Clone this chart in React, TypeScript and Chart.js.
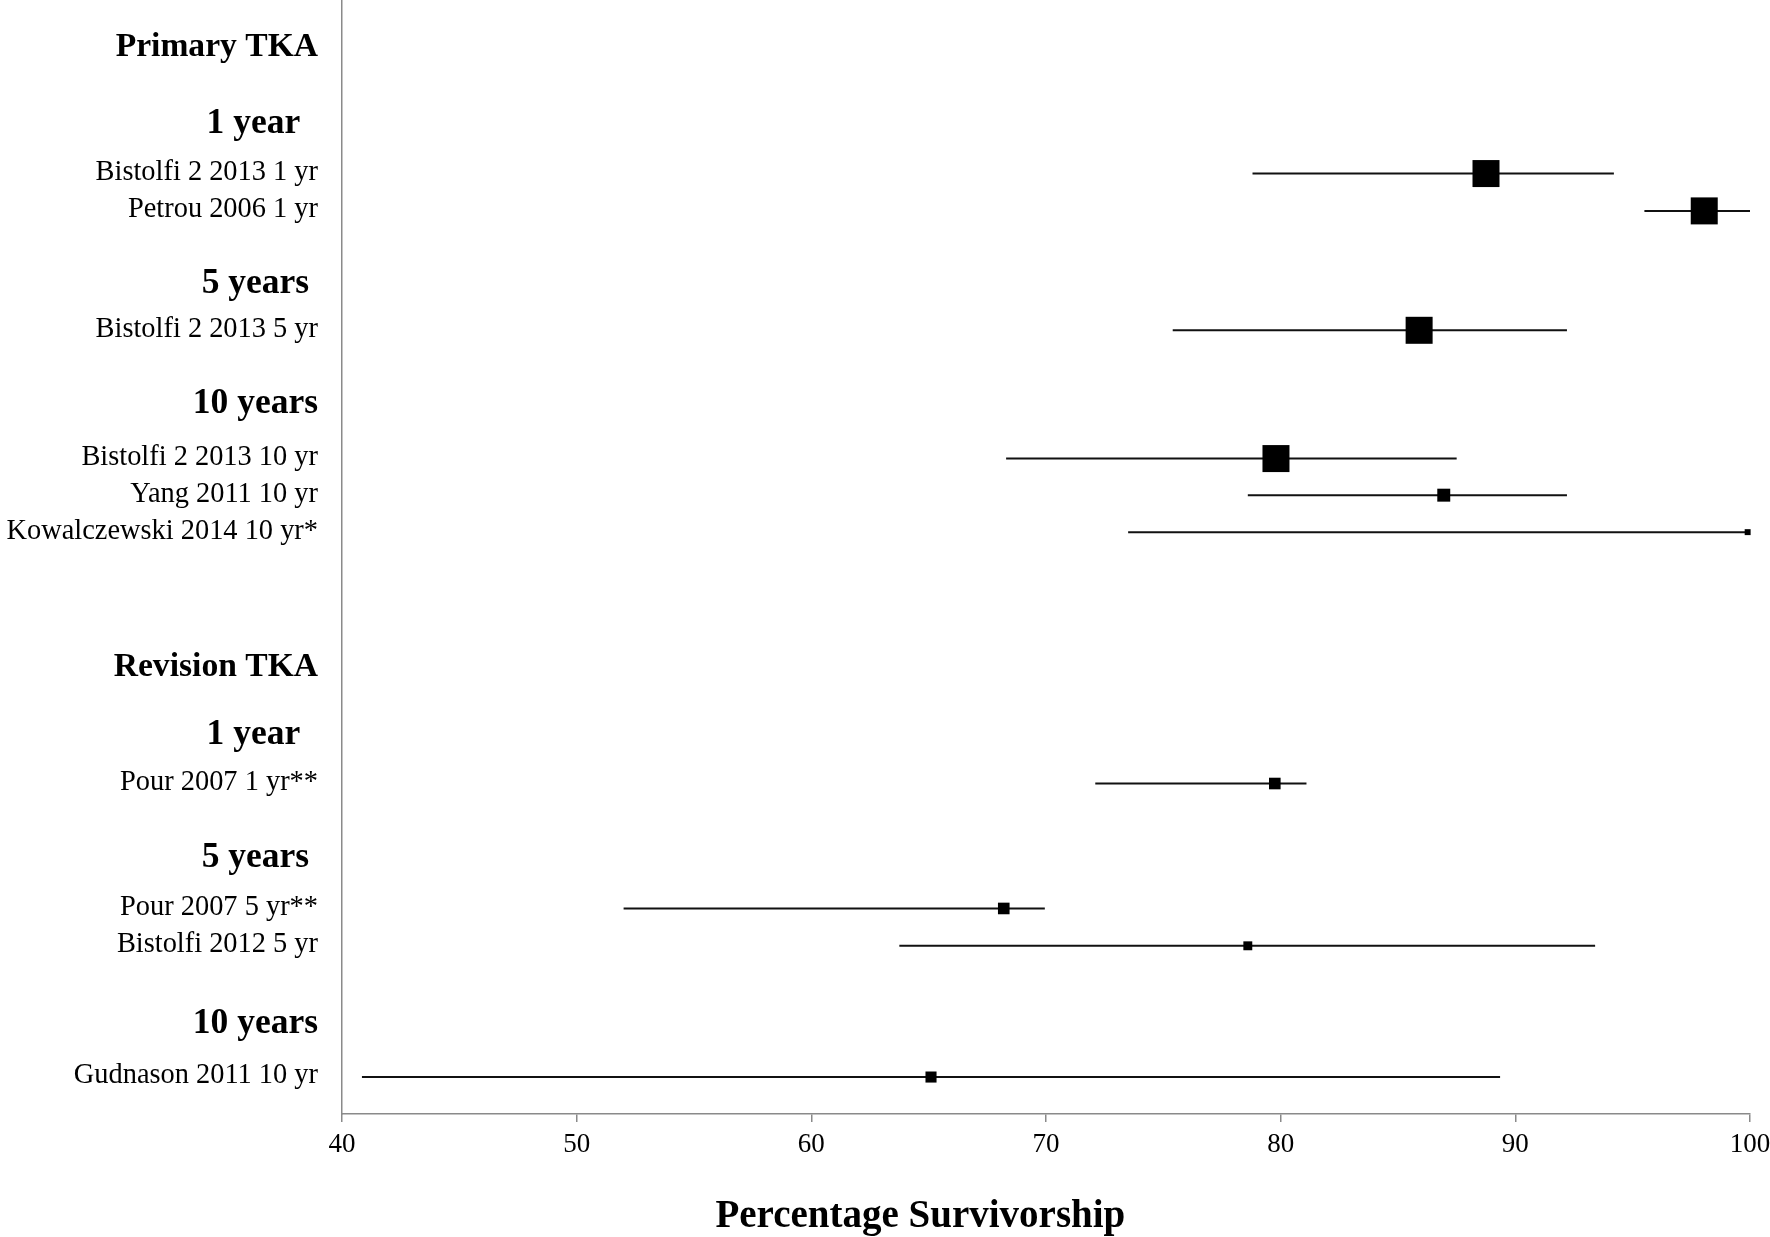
import React, { useEffect, useRef } from 'react';
import { Chart, registerables } from 'chart.js';

Chart.register(...registerables);

// ---- Data ----
const studyLabels = [
  'Bistolfi 2 2013 1 yr',
  'Petrou 2006 1 yr',
  'Bistolfi 2 2013 5 yr',
  'Bistolfi 2 2013 10 yr',
  'Yang 2011 10 yr',
  'Kowalczewski 2014 10 yr*',
  'Pour 2007 1 yr**',
  'Pour 2007 5 yr**',
  'Bistolfi 2012 5 yr',
  'Gudnason 2011 10 yr',
];
// row index of each study on the (reversed) vertical axis
const studyRows = [4.56, 5.57, 8.8, 12.27, 13.26, 14.26, 21.06, 24.44, 25.45, 29.0];
const survival = [88.75, 98.05, 85.9, 79.8, 86.95, 99.9, 79.75, 68.2, 78.6, 65.1];
const ciLower = [78.8, 95.5, 75.4, 68.3, 78.6, 73.5, 72.1, 52.0, 63.75, 40.85];
const ciUpper = [94.2, 100, 92.2, 87.5, 92.2, 100, 81.1, 69.95, 93.4, 89.35];
// relative study weight (%), shown as the size of the square
const studyWeight = [100, 100, 100, 100, 48, 22, 43, 43, 33, 41];

const headerLabels = [
  'Primary TKA',
  '1 year  ',
  '5 years ',
  '10 years',
  'Revision TKA',
  '1 year  ',
  '5 years ',
  '10 years',
];
const headerLevels = ['group', 'period', 'period', 'period', 'group', 'period', 'period', 'period'];
const headerRows = [1.16, 3.24, 7.56, 10.82, 17.95, 19.78, 23.11, 27.6];

const xMin = 40;
const xMax = 100;
const xStep = 10;
const xAxisTitle = 'Percentage Survivorship';

// ---- Presentation ----
const FONT = '"Liberation Serif", "Times New Roman", serif';
const AXIS_GREY = '#8a8a8a';
const MAX_SIDE = 27;

type Entry = { row: number; text: string; kind: 'study' | 'group' | 'period' };

const yEntries: Entry[] = [
  ...studyLabels.map((t, i) => ({ row: studyRows[i], text: t, kind: 'study' as const })),
  ...headerLabels.map((t, i) => ({ row: headerRows[i], text: t, kind: headerLevels[i] as 'group' | 'period' })),
].sort((a, b) => a.row - b.row);

const axisTitlePlugin = {
  id: 'axisTitleCustom',
  afterDraw(chart: any) {
    const ctx = chart.ctx;
    ctx.save();
    ctx.font = `bold 39px ${FONT}`;
    ctx.fillStyle = '#000';
    ctx.textAlign = 'center';
    ctx.textBaseline = 'alphabetic';
    ctx.fillText(xAxisTitle, chart.width * 0.52, chart.height - 10);
    ctx.restore();
  },
};

export default function App() {
  const canvasRef = useRef<HTMLCanvasElement | null>(null);

  useEffect(() => {
    document.body.style.margin = '0';
    const canvas = canvasRef.current;
    if (!canvas) return;

    const lineSets = studyLabels.map((name, i) => ({
      label: name + ' CI',
      data: [
        { x: ciLower[i], y: studyRows[i] },
        { x: ciUpper[i], y: studyRows[i] },
      ],
      showLine: true,
      borderColor: '#111',
      borderWidth: 2,
      pointRadius: 0,
      pointHoverRadius: 0,
      order: 1,
    }));

    const squares = {
      label: 'Survivorship',
      data: survival.map((v, i) => ({ x: v, y: studyRows[i] })),
      pointStyle: 'rect',
      pointRadius: studyWeight.map((w) => ((w / 100) * MAX_SIDE) / Math.SQRT2),
      pointHoverRadius: studyWeight.map((w) => ((w / 100) * MAX_SIDE) / Math.SQRT2),
      backgroundColor: '#000',
      borderColor: '#000',
      borderWidth: 0,
      showLine: false,
      clip: false,
      order: 0,
    };

    const chart = new Chart(canvas, {
      type: 'scatter',
      data: { datasets: [squares as any, ...lineSets] },
      plugins: [axisTitlePlugin],
      options: {
        animation: false,
        responsive: true,
        maintainAspectRatio: false,
        devicePixelRatio: 1,
        events: [],
        layout: { autoPadding: false, padding: { top: 0, right: 20, bottom: 0, left: 0 } },
        plugins: {
          legend: { display: false },
          tooltip: { enabled: false },
          title: { display: false },
        },
        scales: {
          x: {
            type: 'linear',
            position: 'bottom',
            min: xMin,
            max: xMax,
            afterFit: (scale: any) => {
              scale.height = 123;
              scale.paddingLeft = 0;
              scale.paddingRight = 0;
            },
            ticks: {
              stepSize: xStep,
              color: '#000',
              padding: 7,
              font: { family: FONT, size: 27 },
            },
            grid: {
              display: true,
              drawOnChartArea: false,
              drawTicks: true,
              tickLength: 8,
              color: AXIS_GREY,
              lineWidth: 1.5,
            },
            border: { display: true, color: AXIS_GREY, width: 1.5 },
          },
          y: {
            type: 'linear',
            position: 'left',
            reverse: true,
            min: -0.135,
            max: 30,
            afterFit: (scale: any) => {
              scale.width = 342;
              scale.paddingTop = 0;
              scale.paddingBottom = 0;
            },
            afterBuildTicks: (scale: any) => {
              scale.ticks = yEntries.map((e) => ({ value: e.row }));
            },
            ticks: {
              autoSkip: false,
              color: '#000',
              padding: 24,
              labelOffset: -1,
              callback: (_v: any, index: number) => yEntries[index]?.text ?? '',
              font: (ctx: any) => {
                const e = yEntries[ctx.index];
                if (!e || e.kind === 'study') return { family: FONT, size: 28.4, weight: 'normal' };
                if (e.kind === 'group') return { family: FONT, size: 33.6, weight: 'bold' };
                return { family: FONT, size: 35.5, weight: 'bold' };
              },
            },
            grid: { display: false, drawTicks: false },
            border: { display: true, color: AXIS_GREY, width: 1.5 },
          },
        },
      } as any,
    });

    return () => {
      chart.destroy();
    };
  }, []);

  return (
    <div style={{ width: '1770px', height: '1237px', position: 'relative', overflow: 'hidden', background: '#fff' }}>
      <canvas ref={canvasRef} />
    </div>
  );
}
